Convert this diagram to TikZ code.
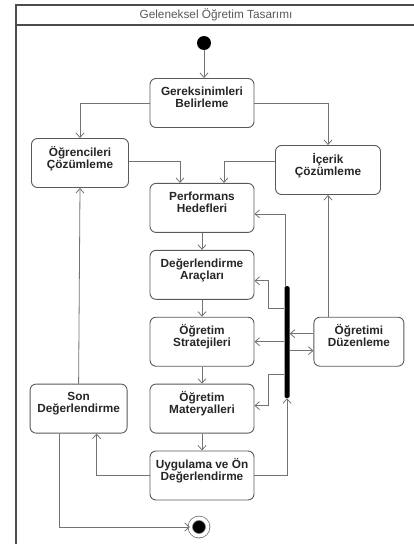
\documentclass[tikz,border=0pt]{standalone}
\usepackage{fontspec}
\setmainfont{Liberation Sans}
\usetikzlibrary{positioning,arrows.meta}
\definecolor{lineg}{gray}{0.45}
\definecolor{boxg}{gray}{0.35}

\begin{document}
\begin{tikzpicture}[x=1pt, y=-1pt,
  act/.style={draw=boxg, line width=0.9pt, rounded corners=6pt, minimum width=104pt, minimum height=49pt,
    align=center, inner sep=2pt, font=\fontsize{11.8}{12}\selectfont\bfseries, text=black!85},
  arr/.style={draw=lineg, line width=0.8pt, -{Straight Barb[length=4.5pt, width=8pt]}},
  forkbar/.style={fill=black, rounded corners=1.5pt, minimum width=5pt, minimum height=112pt, inner sep=0pt},
  initdot/.style={circle, fill=black, minimum size=14pt, inner sep=0pt},
  finaldot/.style={circle, fill=black, draw=lineg, line width=0.8pt, double=white, double distance=3.5pt,
    minimum size=17.5pt, inner sep=0pt},
  ttl/.style={font=\fontsize{11.8}{12}\selectfont, text=black!65},
  frm/.style={draw=black!70, line width=1.2pt},
  node distance=17pt]
\useasboundingbox (0,0) rectangle (414,544);
% frame
\draw[frm] (414,5) -- (16,5) -- (16,544);
\draw[frm] (16,25) -- (414,25);
\node[ttl] (ttl) at (216,15) {Geleneksel Öğretim Tasarımı};
% activities
\node[initdot] (init) at (204,43) {};
\node[act] (ger) at (202,103) {Gereksinimleri\\Belirleme\\\mbox{}};
\node[act, below=55pt of ger] (perf) {Performans\\Hedefleri\\\mbox{}};
\node[act, below=of perf] (deg) {Değerlendirme\\Araçları\\\mbox{}};
\node[act, below=of deg] (str) {Öğretim\\Stratejileri\\\mbox{}};
\node[act, below=of str] (mat) {Öğretim\\Materyalleri\\\mbox{}};
\node[act, below=of mat] (uyg) {Uygulama ve Ön\\Değerlendirme\\\mbox{}};
\node[act, minimum width=97pt] (ogr) at (80,163) {Öğrencileri\\Çözümleme\\\mbox{}};
\node[act, minimum width=97pt, left=22pt of mat] (son) {Son\\Değerlendirme\\\mbox{}};
\node[act, minimum width=105pt] (ice) at (328,170) {İçerik\\Çözümleme\\\mbox{}};
\node[act, minimum width=90pt, right=59pt of str] (duz) {Öğretimi\\Düzenleme\\\mbox{}};
\node[forkbar] (fork) at (287,342) {};
\node[finaldot] (fin) at (199,527) {};
% flows
\draw[arr] (init) -- (init |- ger.north);
\draw[arr] (ger.west) -| (ogr.north);
\draw[arr] (ger.east) -| (ice.north);
\draw[arr] ([yshift=2pt]ogr.east) -| ([xshift=-22pt]perf.north);
\draw[arr] ([yshift=9pt]ice.west) -| ([xshift=22pt]perf.north);
\draw[arr] (perf) -- (deg);
\draw[arr] (deg) -- (str);
\draw[arr] (str) -- (mat);
\draw[arr] (mat) -- (uyg);
\draw[arr] (uyg.west) -| ([xshift=18pt]son.south);
\draw[arr] (uyg.east) -| (fork.south);
\draw[arr] ([xshift=-19pt]son.south) |- (fin.west);
\draw[arr] (son.north) -- (ogr.south);
\draw[arr] (ice.south |- duz.north) -- (ice.south);
\draw[arr] ([xshift=-2pt]fork.north) |- ([yshift=-6pt]perf.east);
\draw[arr] ([yshift=34pt]fork.west) -- ++(-16,0) |- ([yshift=-6pt]deg.east);
\draw[arr] (fork.west |- str.east) -- (str.east);
\draw[arr] ([yshift=-32pt]fork.west) -- ++(-16,0) |- ([yshift=3pt]mat.east);
\draw[arr] ([yshift=8pt]duz.west) -- ([yshift=8pt]duz.west -| fork.east);
\draw[arr] ([yshift=-9pt]duz.west -| fork.east) -- ([yshift=-9pt]duz.west);
\end{tikzpicture}
\end{document}
